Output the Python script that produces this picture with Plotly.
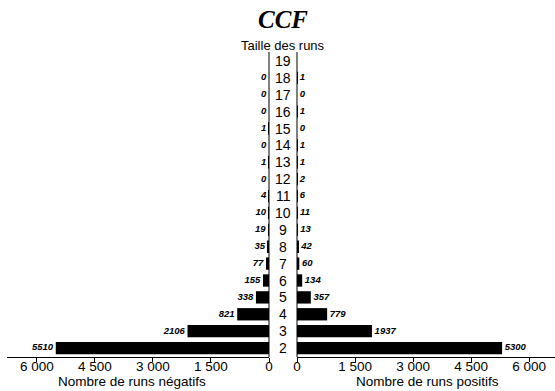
import plotly.graph_objects as go

# ---- data ----
categories = [2, 3, 4, 5, 6, 7, 8, 9, 10, 11, 12, 13, 14, 15, 16, 17, 18, 19]
runs_negatifs = [5510, 2106, 821, 338, 155, 77, 35, 19, 10, 4, 0, 1, 0, 1, 0, 0, 0, None]
runs_positifs = [5300, 1937, 779, 357, 134, 60, 42, 13, 11, 6, 2, 1, 1, 0, 1, 0, 1, None]
tick_vals = [0, 1500, 3000, 4500, 6000]
tick_text = ["0", "1 500", "3 000", "4 500", "6 000"]

title_text = "CCF"
center_title = "Taille des runs"
left_title = "Nombre de runs négatifs"
right_title = "Nombre de runs positifs"

W, H = 555, 391
T, B = 52, 34
plot_h = H - T - B
LEFT_X0, LEFT_X1 = 7, 269
RIGHT_X0, RIGHT_X1 = 297, 555
CENTER = 283

SANS = "Liberation Sans, Arial, sans-serif"
SERIF = "Liberation Serif, Times New Roman, serif"
NB = "\u00a0"

def vals(v):
    return [0 if x is None else x for x in v]

fig = go.Figure()

fig.add_trace(go.Bar(
    x=vals(runs_negatifs), y=categories, orientation="h",
    xaxis="x", yaxis="y", marker=dict(color="black", line=dict(width=0)),
    showlegend=False, hoverinfo="x+y"))
fig.add_trace(go.Bar(
    x=vals(runs_positifs), y=categories, orientation="h",
    xaxis="x2", yaxis="y", marker=dict(color="black", line=dict(width=0)),
    showlegend=False, hoverinfo="x+y"))

valfont = dict(family=SANS, size=9.5, color="black", weight="bold", style="italic")
fig.add_trace(go.Scatter(
    x=vals(runs_negatifs), y=categories, mode="text",
    text=["" if v is None else f"{v}{NB}" for v in runs_negatifs],
    textposition="middle left", textfont=valfont, xaxis="x", yaxis="y",
    showlegend=False, hoverinfo="skip", cliponaxis=False))
fig.add_trace(go.Scatter(
    x=vals(runs_positifs), y=categories, mode="text",
    text=["" if v is None else f"{NB}{v}" for v in runs_positifs],
    textposition="middle right", textfont=valfont, xaxis="x2", yaxis="y",
    showlegend=False, hoverinfo="skip", cliponaxis=False))

# category labels in the centre
annotations = []
for c in categories:
    annotations.append(dict(
        x=CENTER / W, xref="paper", y=c, yref="y", text=str(c), showarrow=False,
        xanchor="center", yanchor="middle",
        font=dict(family=SANS, size=14, color="black")))
annotations.append(dict(
    x=CENTER / W, xref="paper", y=(H - B - 45) / plot_h, yref="paper",
    text=center_title, showarrow=False, xanchor="center", yanchor="middle",
    font=dict(family=SANS, size=13, color="black")))
for txt, cx in [(left_title, 132), (right_title, 427)]:
    annotations.append(dict(
        x=cx / W, xref="paper", y=(H - B - 381) / plot_h, yref="paper",
        text=txt, showarrow=False, xanchor="center", yanchor="middle",
        font=dict(family=SANS, size=13.5, color="black")))

axis_common = dict(
    showline=True, linecolor="black", linewidth=1, ticks="outside", ticklen=4,
    tickcolor="black", tickwidth=1, showgrid=False, zeroline=False,
    tickvals=tick_vals, ticktext=tick_text, ticklabelstandoff=-7,
    tickfont=dict(family=SANS, size=13.5, color="black"), fixedrange=True)

fig.update_layout(
    width=W, height=H,
    margin=dict(l=0, r=0, t=T, b=B, autoexpand=False),
    paper_bgcolor="white", plot_bgcolor="white",
    barmode="overlay", bargap=0.27,
    title=dict(text=title_text, x=CENTER / W, xanchor="center", xref="paper",
               y=1 - 19 / H, yanchor="middle", yref="container",
               font=dict(family=SERIF, size=25, color="black", weight="bold", style="italic")),
    xaxis=dict(domain=[LEFT_X0 / W, LEFT_X1 / W], range=[6770, 0], anchor="y",
               **axis_common),
    xaxis2=dict(domain=[RIGHT_X0 / W, RIGHT_X1 / W], range=[0, 6667], anchor="y",
                **axis_common),
    yaxis=dict(range=[1.47, 19.53], showticklabels=False, showgrid=False,
               zeroline=False, showline=False, ticks="", fixedrange=True),
    annotations=annotations,
    shapes=[
        dict(type="line", xref="paper", yref="paper", x0=LEFT_X1 / W, x1=LEFT_X1 / W,
             y0=0, y1=1, line=dict(color="black", width=1)),
        dict(type="line", xref="paper", yref="paper", x0=RIGHT_X0 / W, x1=RIGHT_X0 / W,
             y0=0, y1=1, line=dict(color="black", width=1)),
    ],
)

fig.write_html("out.html", config={"displayModeBar": False},
               post_script="document.body.style.margin='0';")
